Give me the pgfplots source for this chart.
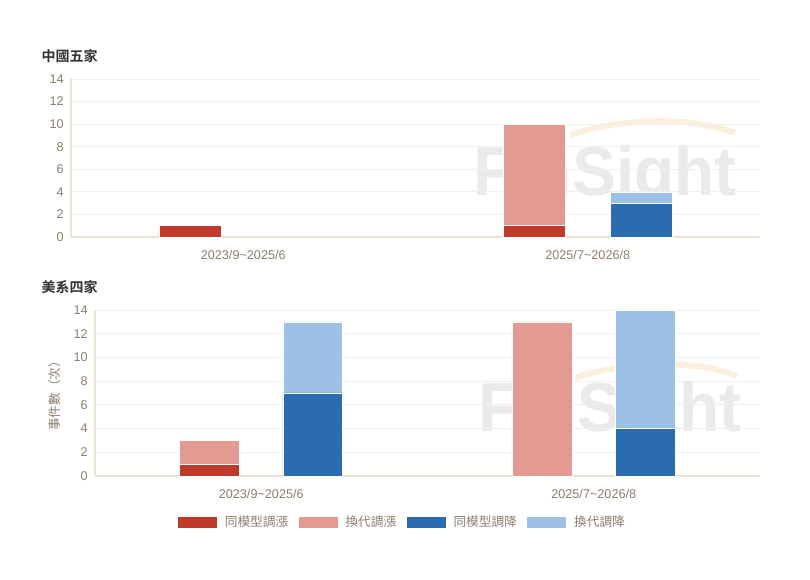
\documentclass[border=0pt]{standalone}
\usepackage{fontspec}
\setmainfont{Liberation Sans}
\newfontfamily\cjk{Noto Sans CJK TC}[BoldFont={Noto Sans CJK TC Bold}]
\usepackage{pgfplots}
\pgfplotsset{compat=1.18}
\definecolor{cRed}{HTML}{C0392B}
\definecolor{cPink}{HTML}{E39A91}
\definecolor{cDBlue}{HTML}{2B6CB0}
\definecolor{cLBlue}{HTML}{9DC1E6}
\definecolor{tickc}{HTML}{8C7E6E}
\definecolor{gridc}{HTML}{EFEFEF}
\definecolor{axc}{HTML}{EDE2D0}
\definecolor{wm}{HTML}{EAEAEA}
\definecolor{arcc}{HTML}{FCEFDD}
\definecolor{titlec}{HTML}{333333}
\pgfplotsset{
  panel/.style={
    scale only axis, ybar stacked, bar width=0.18, clip=false,
    xmin=-0.5, xmax=1.5, ymin=0, ymax=14, ytick={0,2,...,14},
    xtick={0,1},
    xticklabels={2023/9\textasciitilde2025/6, 2025/7\textasciitilde2026/8},
    major tick length=0pt,
    ymajorgrids, grid style={gridc, line width=0.6pt},
    axis lines*=left,
    axis line style={axc, line width=0.8pt},
    tick label style={text=tickc, font=\fontsize{9.5}{11}\selectfont},
    xticklabel style={yshift=-6.5pt},
    yticklabel style={xshift=-2pt},
    /pgf/number format/assume math mode=true,
    every axis plot/.append style={draw=white, line width=0.5pt},
  }
}
\begin{document}
\begin{tikzpicture}
\path[use as bounding box, fill=white] (0,0) rectangle (607.5pt,435pt);
% watermarks
\begin{scope}[x=0.75pt, y=-0.75pt, shift={(0,435pt)}]
\draw[arcc, line width=4.5pt] (570,135) .. controls (620,118) and (690,116) .. (735,133);
\node[text=wm, font=\bfseries\fontsize{52}{52}\selectfont, xscale=0.95] at (605,178) {FinSight};
\draw[arcc, line width=4.5pt] (575,378) .. controls (625,361) and (695,359) .. (737,376);
\node[text=wm, font=\bfseries\fontsize{52}{52}\selectfont, xscale=0.95] at (610,414) {FinSight};
\node[anchor=west, text=titlec, font=\cjk\bfseries\fontsize{10.5}{12}\selectfont] at (37,56) {中國五家};
\node[anchor=west, text=titlec, font=\cjk\bfseries\fontsize{10.5}{12}\selectfont] at (37,287) {美系四家};
\node[rotate=90, text=tickc, font=\cjk\fontsize{9.5}{11}\selectfont] at (55,393) {事件數（次）};
\end{scope}

\begin{axis}[panel, at={(53.25pt,257.25pt)}, anchor=south west,
  width=516.75pt, height=118.5pt]
\addplot[fill=cRed] coordinates {(-0.155,1) (0.155,0) (0.845,1) (1.155,0)};
\addplot[fill=cPink] coordinates {(-0.155,0) (0.155,0) (0.845,9) (1.155,0)};
\addplot[fill=cDBlue] coordinates {(-0.155,0) (0.155,0) (0.845,0) (1.155,3)};
\addplot[fill=cLBlue] coordinates {(-0.155,0) (0.155,0) (0.845,0) (1.155,1)};
\draw[axc, line width=0.8pt] (axis cs:-0.5,0) -- (axis cs:1.5,0);
\end{axis}

\begin{axis}[panel, at={(71.25pt,78pt)}, anchor=south west,
  width=498.75pt, height=124.5pt,
  legend columns=4,
  legend style={at={(0.462,-0.277)}, anchor=center, draw=none, fill=none,
    font=\cjk\fontsize{9.5}{11}\selectfont, text=tickc,
    /tikz/every odd column/.append style={column sep=3.5pt},
    /tikz/every even column/.append style={column sep=5pt}},
  legend image code/.code={\fill[#1] (0pt,-4.5pt) rectangle (30pt,4.5pt);},
]
\addplot[fill=cRed] coordinates {(-0.155,1) (0.155,0) (0.845,0) (1.155,0)};
\addlegendentry{同模型調漲}
\addplot[fill=cPink] coordinates {(-0.155,2) (0.155,0) (0.845,13) (1.155,0)};
\addlegendentry{換代調漲}
\addplot[fill=cDBlue] coordinates {(-0.155,0) (0.155,7) (0.845,0) (1.155,4)};
\addlegendentry{同模型調降}
\addplot[fill=cLBlue] coordinates {(-0.155,0) (0.155,6) (0.845,0) (1.155,10)};
\addlegendentry{換代調降}
\draw[axc, line width=0.8pt] (axis cs:-0.5,0) -- (axis cs:1.5,0);
\end{axis}
\end{tikzpicture}
\end{document}
